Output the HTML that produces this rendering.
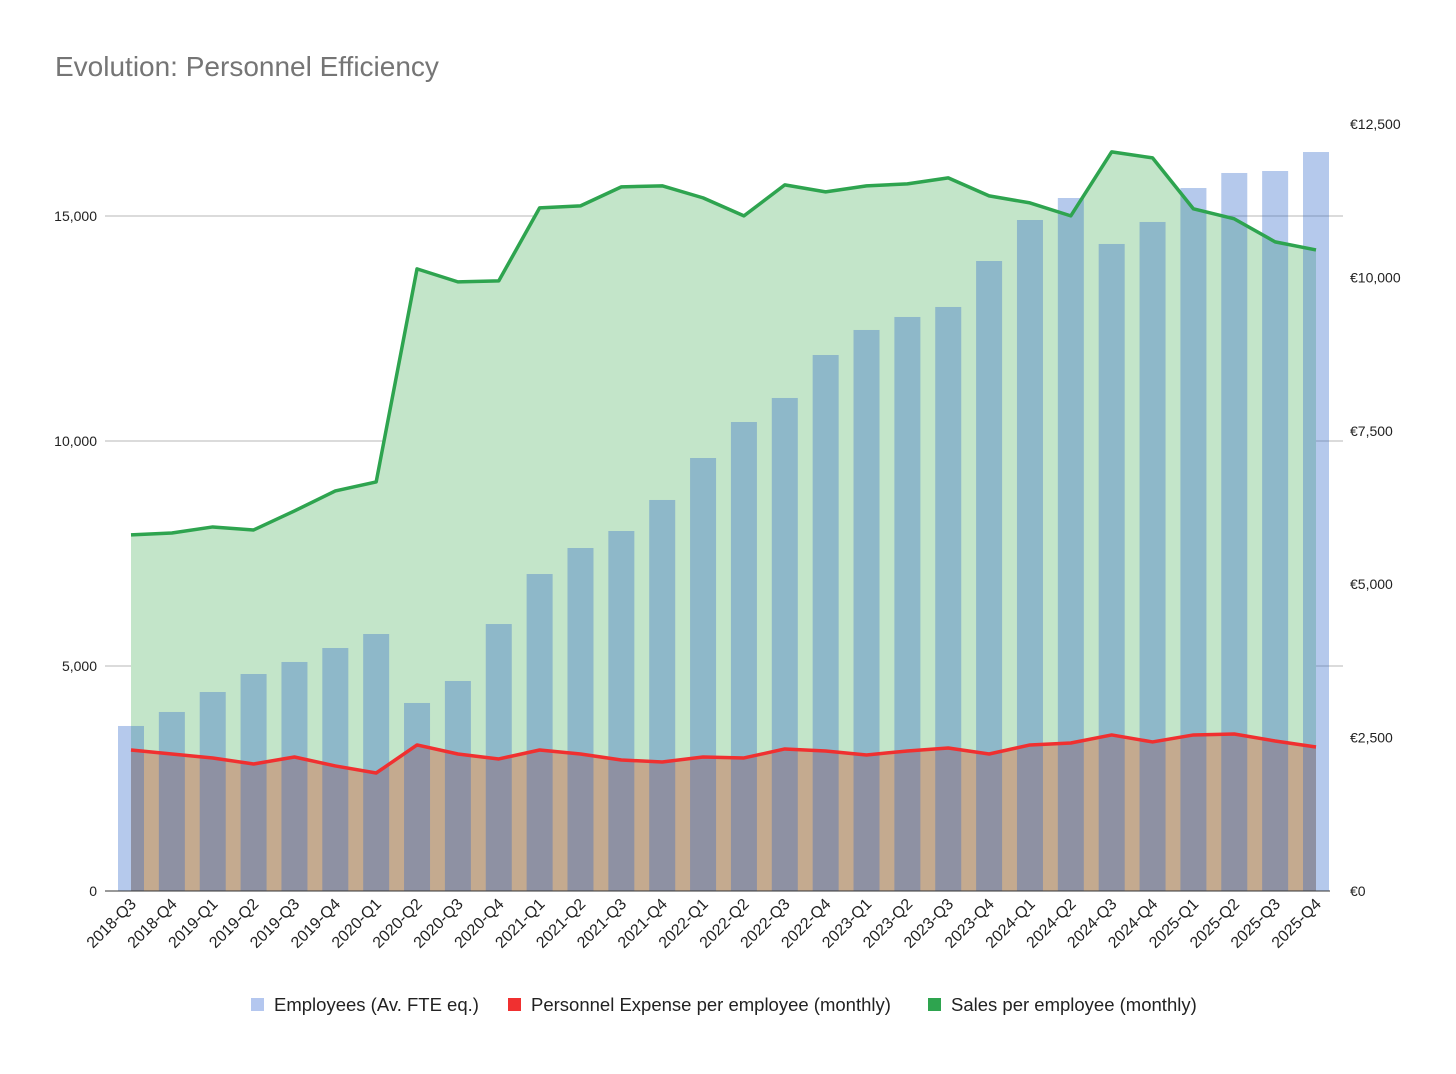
<!DOCTYPE html>
<html><head><meta charset="utf-8"><style>
body{margin:0;background:#fff;font-family:"Liberation Sans",Arial,sans-serif}
svg text{font-family:"Liberation Sans",Arial,sans-serif}
</style></head><body>
<svg id="chart" width="1456" height="1069">
<text x="55" y="76" font-size="28" fill="#757575">Evolution: Personnel Efficiency</text>
<g id="grid"></g><g id="areas"></g><g id="bars"></g><g id="lines"></g><g id="axes"></g>
<g>
<rect x="251" y="998" width="13" height="13" fill="#b4c7ef"/>
<text x="274" y="1011" font-size="18.5" fill="#222">Employees (Av. FTE eq.)</text>
<rect x="508" y="998" width="13" height="13" fill="#f03030"/>
<text x="531" y="1011" font-size="18.5" fill="#222">Personnel Expense per employee (monthly)</text>
<rect x="928" y="998" width="13" height="13" fill="#2ea44f"/>
<text x="951" y="1011" font-size="18.5" fill="#222">Sales per employee (monthly)</text>
</g>
</svg>
<script>
const categories=["2018-Q3","2018-Q4","2019-Q1","2019-Q2","2019-Q3","2019-Q4","2020-Q1","2020-Q2","2020-Q3","2020-Q4","2021-Q1","2021-Q2","2021-Q3","2021-Q4","2022-Q1","2022-Q2","2022-Q3","2022-Q4","2023-Q1","2023-Q2","2023-Q3","2023-Q4","2024-Q1","2024-Q2","2024-Q3","2024-Q4","2025-Q1","2025-Q2","2025-Q3","2025-Q4"];
const employees=[3667,3978,4422,4822,5089,5400,5711,4178,4667,5933,7044,7622,8000,8689,9622,10422,10956,11911,12467,12756,12978,14000,14911,15400,14378,14867,15622,15956,16000,16422];
const sales=[5803,5835,5933,5884,6194,6520,6667,10139,9927,9943,11133,11166,11475,11492,11296,11003,11508,11394,11492,11524,11622,11329,11214,11003,12046,11948,11117,10954,10579,10448];
const expense=[2298,2233,2168,2070,2184,2038,1923,2380,2233,2152,2298,2233,2135,2103,2184,2168,2315,2282,2217,2282,2331,2233,2380,2412,2543,2429,2543,2559,2445,2347];
const leftTicks=[0,5000,10000,15000];
const leftTickLabels=["0","5,000","10,000","15,000"];
const rightTicks=[0,2500,5000,7500,10000,12500];
const rightTickLabels=["€0","€2,500","€5,000","€7,500","€10,000","€12,500"];
const NS="http://www.w3.org/2000/svg";
const x0=131,step=(1316-131)/29,base=891;
const xs=i=>x0+i*step;
const yL=v=>base-v*0.045;
const yR=v=>base-v*(767/12500);
function mk(tag,attrs,parent){const e=document.createElementNS(NS,tag);for(const k in attrs)e.setAttribute(k,attrs[k]);document.getElementById(parent).appendChild(e);return e;}
leftTicks.forEach((t,i)=>{
 if(t>0){const g=mk('line',{x1:105,x2:1343,y1:yL(t),y2:yL(t),stroke:'#b7b7b7','stroke-width':1},'grid');
 
 }
 const l=mk('text',{x:97,y:yL(t)+5,'text-anchor':'end','font-size':14,fill:'#222'},'axes');l.textContent=leftTickLabels[i];
 
 
});
rightTicks.forEach((t,i)=>{
 const l=mk('text',{x:1350,y:yR(t)+5,'font-size':14,fill:'#222'},'axes');l.textContent=rightTickLabels[i];
 
 
});
function pts(arr){return arr.map((v,i)=>xs(i)+','+yR(v)).join(' ');}
const ga=mk('polygon',{points:xs(0)+','+base+' '+pts(sales)+' '+xs(29)+','+base,fill:'#c3e5c9'},'areas');


const ra=mk('polygon',{points:xs(0)+','+base+' '+pts(expense)+' '+xs(29)+','+base,fill:'#c4aa8f'},'areas');


employees.forEach((v,i)=>{
 const r=mk('rect',{x:xs(i)-13,y:yL(v),width:26,height:base-yL(v),fill:'#2c65c9','fill-opacity':0.35},'bars');
 
 
});
const gl=mk('polyline',{points:pts(sales),fill:'none',stroke:'#2ea44f','stroke-width':3.5,'stroke-linejoin':'round'},'lines');


const rl=mk('polyline',{points:pts(expense),fill:'none',stroke:'#f03030','stroke-width':3.5,'stroke-linejoin':'round'},'lines');


const ax=mk('line',{x1:105,x2:1330,y1:base,y2:base,stroke:'#333','stroke-width':1},'axes');


categories.forEach((c,i)=>{
 const t=mk('text',{x:xs(i)+6,y:base+14,'text-anchor':'end','font-size':16,fill:'#222',transform:'rotate(-45 '+(xs(i)+6)+' '+(base+14)+')'},'axes');t.textContent=c;
 
 
});
</script>
</body></html>
